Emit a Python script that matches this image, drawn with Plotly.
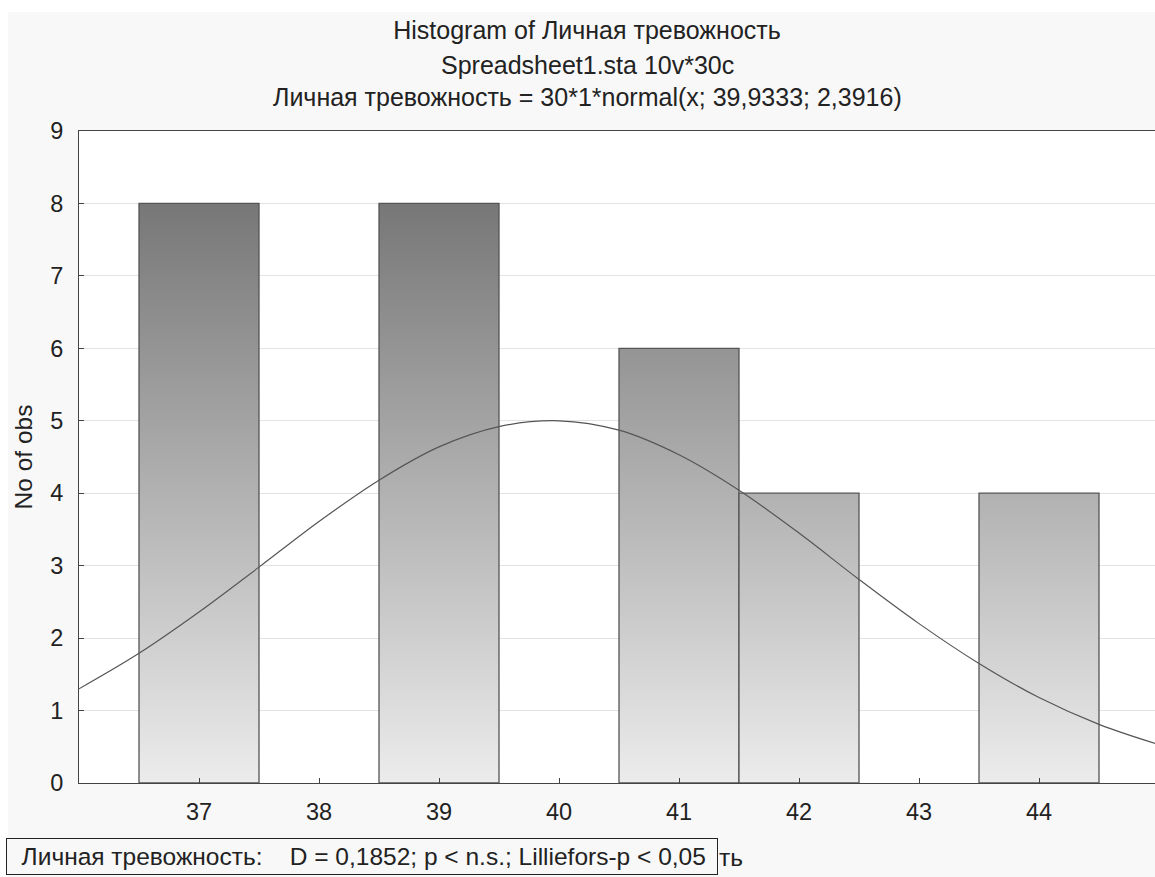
import plotly.graph_objects as go

# ---------------- data ----------------
bin_centers = [37, 38, 39, 40, 41, 42, 43, 44]
counts = [8, 0, 8, 0, 6, 4, 0, 4]
bin_width = 1.0

# fitted normal curve values (30*1*normal(x; 39,9333; 2,3916))
curve_x = [36, 36.5, 37, 37.5, 38, 38.5, 39, 39.5, 40, 40.5,
           41, 41.5, 42, 42.5, 43, 43.5, 44, 44.5, 45]
curve_y = [1.30, 1.79, 2.36, 2.98, 3.61, 4.18, 4.64, 4.92, 5.00, 4.87,
           4.53, 4.04, 3.45, 2.81, 2.20, 1.65, 1.18, 0.81, 0.53]

x_ticks = [37, 38, 39, 40, 41, 42, 43, 44]
y_ticks = [0, 1, 2, 3, 4, 5, 6, 7, 8, 9]

title_lines = ["Histogram of Личная тревожность",
               "Spreadsheet1.sta 10v*30c",
               "Личная тревожность = 30*1*normal(x; 39,9333; 2,3916)"]
x_title_visible = "ть"   # only the tail of the x-axis title shows past the box
y_title = "No of obs"
stats_text = "Личная тревожность:   D = 0,1852; p < n.s.; Lilliefors-p < 0,05"

# ---------------- layout geometry (pixels) ----------------
W, H = 1155, 877
L, R, T, B = 79, 0, 131, 94
PW, PH = W - L - R, H - T - B
FONT = "Liberation Sans, Arial, sans-serif"
TXT = 24.5
TICK = 23.5


def px_x(p):
    return (p - L) / PW


def px_y(p):
    return (H - B - p) / PH


fig = go.Figure()

# histogram bars (vertical gradient fill tied to the y-axis)
for c, n in zip(bin_centers, counts):
    if n <= 0:
        continue
    x0, x1 = c - bin_width / 2, c + bin_width / 2
    fig.add_trace(go.Scatter(
        x=[x0, x0, x1, x1, x0], y=[0, n, n, 0, 0],
        mode="lines", fill="toself",
        fillgradient=dict(type="vertical",
                          colorscale=[[0, "#ececec"], [1, "#777777"]],
                          start=0, stop=8),
        line=dict(color="#555555", width=1.3),
        hoverinfo="skip", showlegend=False))

# fitted normal curve
fig.add_trace(go.Scatter(
    x=curve_x, y=curve_y, mode="lines",
    line=dict(color="#555555", width=1.2, shape="spline"),
    showlegend=False))

fig.update_layout(
    width=W, height=H, autosize=False,
    margin=dict(l=L, r=R, t=T, b=B, pad=0),
    paper_bgcolor="#f8f8f8", plot_bgcolor="white",
    font=dict(family=FONT, size=22, color="#222222"),
    showlegend=False,
    title=dict(text=title_lines[0], x=587 / W, xanchor="center", xref="container",
               y=1 - 30 / H, yanchor="middle", yref="container",
               font=dict(family=FONT, size=25, color="#222222")),
)

fig.update_xaxes(range=[36, 36 + PW / 120.0], tickvals=x_ticks,
                 ticktext=[str(v) for v in x_ticks],
                 showgrid=False, zeroline=False,
                 showline=True, linecolor="#444444", linewidth=1, mirror=True,
                 ticks="inside", ticklen=5, tickcolor="#444444",
                 ticklabelstandoff=8, tickfont=dict(size=TICK))
fig.update_yaxes(range=[0, 9], tickvals=y_ticks,
                 showgrid=True, gridcolor="#e2e2e2", gridwidth=1, zeroline=False,
                 showline=True, linecolor="#444444", linewidth=1,
                 ticks="inside", ticklen=5, tickcolor="#444444",
                 ticklabelstandoff=10, tickfont=dict(size=TICK),
                 title=dict(text=y_title, standoff=10, font=dict(size=24.5)))

# white outer margin strips (top and left)
fig.add_shape(type="rect", xref="paper", yref="paper",
              x0=px_x(0), x1=px_x(W), y0=px_y(12), y1=px_y(0),
              fillcolor="white", line_width=0, layer="below")
fig.add_shape(type="rect", xref="paper", yref="paper",
              x0=px_x(0), x1=px_x(8), y0=px_y(H), y1=px_y(0),
              fillcolor="white", line_width=0, layer="below")

# subtitle lines
fig.add_annotation(text=title_lines[1], xref="paper", yref="paper",
                   x=px_x(587), y=px_y(65), xanchor="center", yanchor="middle",
                   showarrow=False, font=dict(size=25))
fig.add_annotation(text=title_lines[2], xref="paper", yref="paper",
                   x=px_x(587), y=px_y(97), xanchor="center", yanchor="middle",
                   showarrow=False, font=dict(size=25))

# statistics box
fig.add_annotation(text="\u00a0\u00a0" + stats_text.replace("   ", "\u00a0\u00a0\u00a0\u00a0"),
                   xref="paper", yref="paper",
                   x=px_x(6), y=px_y(838), xanchor="left", yanchor="top",
                   width=708, height=33, align="left", valign="middle",
                   bgcolor="#f8f8f8", bordercolor="#222222", borderwidth=1, borderpad=1,
                   showarrow=False, font=dict(size=TXT))

# visible tail of the x-axis title, just right of the box
fig.add_annotation(text=x_title_visible, xref="paper", yref="paper",
                   x=px_x(717), y=px_y(857), xanchor="left", yanchor="middle",
                   showarrow=False, font=dict(size=TXT))

fig.write_html("out.html",
               config={"displayModeBar": False},
               post_script="document.body.style.margin='0';document.body.style.overflow='hidden';")
